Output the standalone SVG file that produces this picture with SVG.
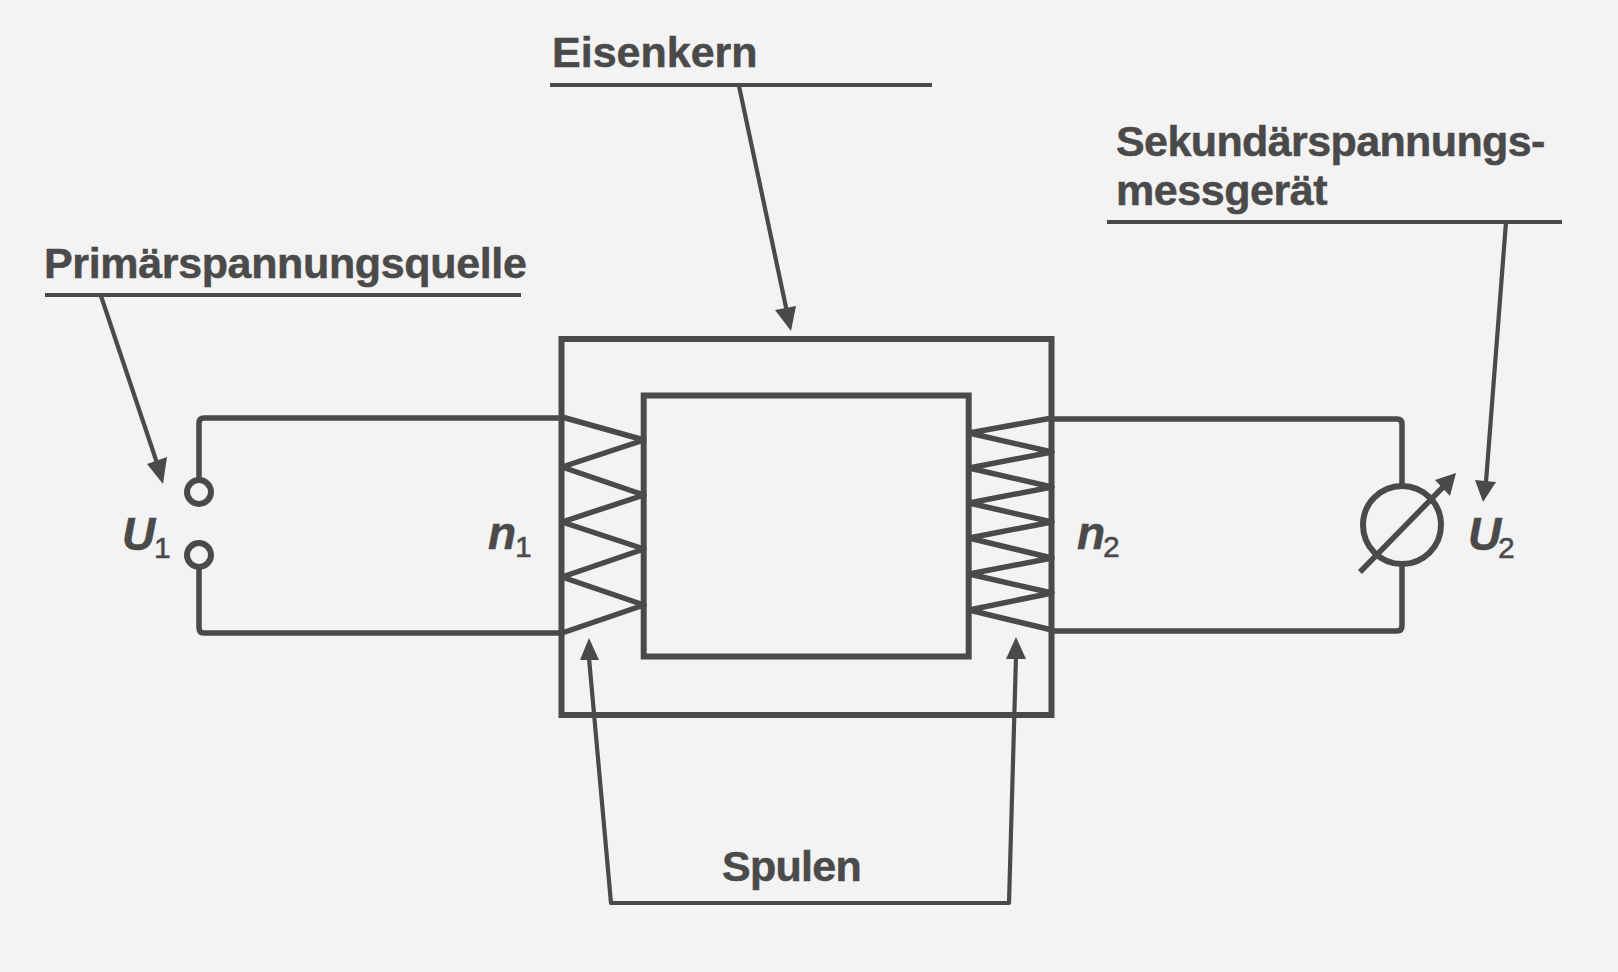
<svg xmlns="http://www.w3.org/2000/svg" width="1618" height="972" viewBox="0 0 1618 972">
<defs>
<style>
.l{fill:none;stroke:#4a4a4a;stroke-width:5.500;stroke-linejoin:round;stroke-linecap:butt}
.c{stroke-width:6;stroke-linejoin:miter}
.t{stroke-width:4.200}
.a{fill:#4a4a4a;stroke:none}
text{font-family:"Liberation Sans",Arial,sans-serif;fill:#4a4a4a;stroke:#4a4a4a;stroke-width:.5}
.b{font-weight:700;font-size:43px}
.v{font-weight:700;font-style:italic;font-size:46px}
.s{font-size:30px}
</style>
</defs>
<rect width="1618" height="972" fill="#f3f3f3"/>
<g id="connectors">
<path class="l" d="M561 418H204Q199 418 199 423V480M199 567V628Q199 633 204 633H561"/>
<path class="l" d="M1052 419H1397Q1402 419 1402 424V486M1402 564V626Q1402 631 1397 631H1052"/>
<path class="l t" d="M739 86L787 312"/>
<polygon class="a" points="791,331 775,310 796,306"/>
<path class="l t" d="M101 296L157 463"/>
<polygon class="a" points="163,484 147,464 167,457"/>
<path class="l t" d="M1506 222L1486 482"/>
<polygon class="a" points="1483,502 1475,480 1496,482"/>
<path class="l t" d="M589 658L611 903H1009L1016 656"/>
<polygon class="a" points="589,638 580,660 599,660"/>
<polygon class="a" points="1016,637 1006,659 1026,659"/>
</g>
<g id="eisenkern">
<rect class="l c" x="561.500" y="339" width="490" height="376"/>
<rect class="l c" x="643.700" y="395.500" width="325" height="261"/>
<text class="b" x="552" y="67">Eisenkern</text>
<path class="l t" d="M550 85H932"/>
</g>
<g id="spule-1"><polyline class="l" points="562,417 644,440 562,467 644,495 562,522 644,549 562,577 644,605 562,633"/></g>
<g id="spule-2"><polyline class="l" points="1052,418 969,433 1052,452 969,468 1052,487 969,503 1052,522 969,538 1052,558 969,574 1052,593 969,610 1052,630"/></g>
<g id="primaer">
<text class="b" x="44" y="278" letter-spacing="-.35">Primärspannungsquelle</text>
<path class="l t" d="M45 295H521"/>
<circle class="l c" cx="199" cy="492" r="12"/>
<circle class="l c" cx="199" cy="555" r="12"/>
<text class="v" x="122" y="550">U</text>
<text class="s" x="154" y="558">1</text>
<text class="v" x="488" y="549">n</text>
<text class="s" x="515" y="557">1</text>
</g>
<g id="sekundaer">
<text class="b" x="1116" y="156" letter-spacing="-.6">Sekundärspannungs-</text>
<text class="b" x="1116" y="205" letter-spacing="-.46">messgerät</text>
<path class="l t" d="M1107 222H1562"/>
<circle class="l c" cx="1402" cy="525" r="39"/>
<path class="l" d="M1360 572L1446 484"/>
<polygon class="a" points="1456,473 1450,496 1435,480"/>
<text class="v" x="1468" y="550">U</text>
<text class="s" x="1498" y="558">2</text>
<text class="v" x="1077" y="549">n</text>
<text class="s" x="1103" y="557">2</text>
</g>
<g id="spulen-label"><text class="b" x="722" y="881" letter-spacing="-.7">Spulen</text></g>
</svg>
